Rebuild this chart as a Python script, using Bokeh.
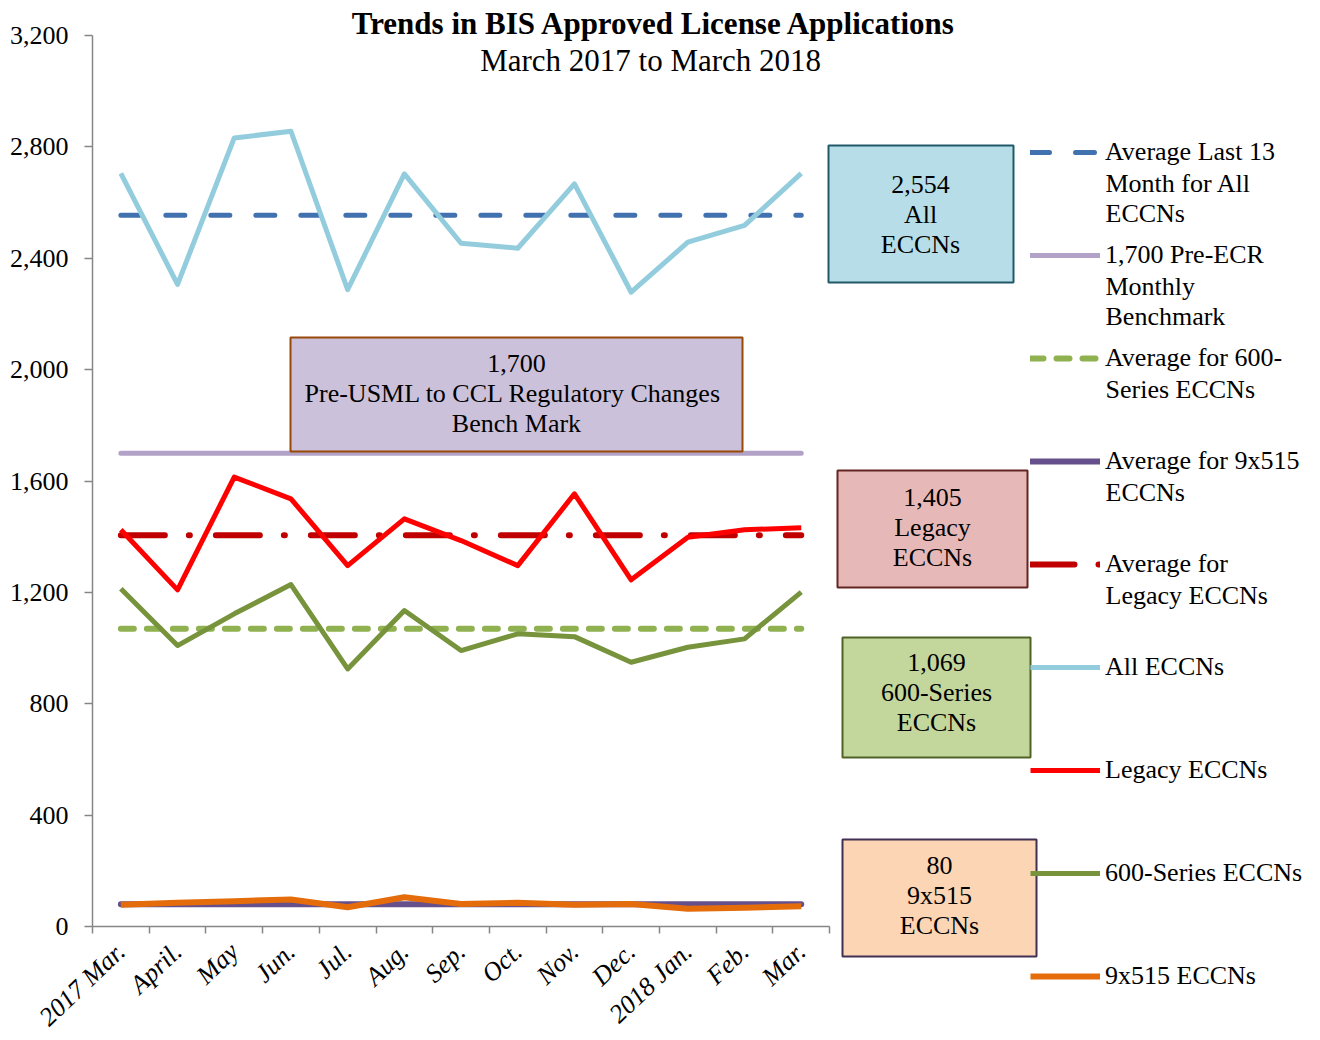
from bokeh.plotting import figure
from bokeh.models import (Range1d, FixedTicker, NumeralTickFormatter, BoxAnnotation,
                          Label, Legend, LegendItem)
from bokeh.embed import file_html
from bokeh.resources import INLINE

# ---------------- data ----------------
months = ["2017 Mar.", "April.", "May", "Jun.", "Jul.", "Aug.", "Sep.", "Oct.",
          "Nov.", "Dec.", "2018 Jan.", "Feb.", "Mar."]
all_eccns = [2705, 2306, 2832, 2856, 2287, 2703, 2454, 2436, 2667, 2278, 2458, 2518, 2705]
legacy_eccns = [1425, 1209, 1614, 1536, 1296, 1464, 1386, 1296, 1554, 1245, 1398, 1425, 1432]
series600_eccns = [1213, 1009, 1123, 1228, 925, 1135, 991, 1051, 1041, 949, 1003, 1033, 1201]
eccn9x515 = [78, 85, 91, 97, 69, 105, 81, 85, 78, 81, 64, 67, 73]
avg_all = 2554
benchmark = 1700
avg_600 = 1069
avg_9x515 = 80
avg_legacy = 1405
y_ticks = [0, 400, 800, 1200, 1600, 2000, 2400, 2800, 3200]

# ---------------- geometry (canvas pixels) ----------------
W, H = 1312, 1036
AX_L = 92          # canvas x of the value axis
AX_B = 926         # canvas y of the category axis
CAT_PX = 56.7      # pixels per category
Y_PX = 891 / 3200  # pixels per unit


def X(px):
    return -0.5 + (px - AX_L) / CAT_PX


def Y(py):
    return (AX_B - py) / Y_PX


FONT = "Liberation Serif"
AXIS = "#868686"

p = figure(width=W, height=H, x_range=Range1d(X(0), X(W)), y_range=Range1d(Y(H), Y(0)),
           output_backend="svg", toolbar_location=None, min_border=0,
           min_border_left=0, min_border_right=0, min_border_top=0, min_border_bottom=0)
p.outline_line_color = None
p.xgrid.visible = False
p.ygrid.visible = False
p.background_fill_color = "white"
p.border_fill_color = "white"

n = len(months)
xs = list(range(n))

# axis lines
p.segment(x0=[-0.5, -0.5], y0=[0, 0], x1=[-0.5, n - 0.5], y1=[y_ticks[-1], 0],
          line_color=AXIS, line_width=1.5)

# y axis
yax = p.yaxis[0]
yax.fixed_location = -0.5
yax.ticker = FixedTicker(ticks=y_ticks)
yax.formatter = NumeralTickFormatter(format="0,0")
yax.axis_line_color = None
yax.major_tick_out = 8
yax.major_tick_in = 0
yax.major_tick_line_color = AXIS
yax.major_tick_line_width = 1.5
yax.minor_tick_line_color = None
yax.major_label_standoff = 16
yax.major_label_text_font = FONT
yax.major_label_text_font_size = "26px"
yax.major_label_text_color = "black"

# x axis
xax = p.xaxis[0]
xax.fixed_location = 0
xax.ticker = FixedTicker(ticks=xs, minor_ticks=[i - 0.5 for i in range(n + 1)])
xax.major_label_overrides = {i: m for i, m in enumerate(months)}
xax.axis_line_color = None
xax.major_tick_out = 0
xax.major_tick_in = 0
xax.minor_tick_out = 7
xax.minor_tick_in = 0
xax.minor_tick_line_color = AXIS
xax.minor_tick_line_width = 1.5
xax.major_label_orientation = 0.76
xax.major_label_standoff = 14
xax.major_label_text_font = FONT
xax.major_label_text_font_size = "26px"
xax.major_label_text_font_style = "italic"
xax.major_label_text_color = "black"

# average / benchmark lines
r_avg_all = p.line(xs, [avg_all] * n, line_color="#4171ae", line_width=5,
                   line_dash="19 26", line_cap="round")
r_bench = p.line(xs, [benchmark] * n, line_color="#b3a2c7", line_width=5, line_cap="round")
r_avg_600 = p.line(xs, [avg_600] * n, line_color="#8fb150", line_width=6,
                   line_dash="13 13", line_cap="round")
r_avg_9x = p.line(xs, [avg_9x515] * n, line_color="#65508c", line_width=6, line_cap="round")
r_avg_leg = p.line(xs, [avg_legacy] * n, line_color="#c00000", line_width=6,
                   line_dash="44 24 1 26", line_cap="round")

# data lines
r_all = p.line(xs, all_eccns, line_color="#93cddd", line_width=5, line_join="round")
r_leg = p.line(xs, legacy_eccns, line_color="#ff0000", line_width=5, line_join="round")
r_600 = p.line(xs, series600_eccns, line_color="#77933c", line_width=5, line_join="round")
r_9x = p.line(xs, eccn9x515, line_color="#e46c0a", line_width=6, line_join="round")

# title
p.add_layout(Label(x=X(654), y=Y(23), text="Trends in BIS Approved License Applications",
                   text_align="center", text_baseline="middle", text_font=FONT,
                   text_font_size="31px", text_font_style="bold", text_color="black"))
p.add_layout(Label(x=X(654), y=Y(60), text="March 2017  to March 2018",
                   text_align="center", text_baseline="middle", text_font=FONT,
                   text_font_size="31px", text_color="black"))

# callout boxes
boxes = [
    # left, right, top, bottom (canvas px), fill, line, text, text centre x, centre y
    (828, 1013, 145, 282, "#b7dee8", "#215968", f"{avg_all:,}\nAll\nECCNs", 920, 214),
    (290, 742, 337, 451, "#ccc1da", "#984807",
     f"{benchmark:,}\nPre-USML  to CCL Regulatory Changes\nBench Mark", 516, 393),
    (837, 1027, 470, 587, "#e6b9b8", "#632523", f"{avg_legacy:,}\nLegacy\nECCNs", 932, 527),
    (842, 1030, 637, 757, "#c3d69b", "#4f6228", f"{avg_600:,}\n600-Series\nECCNs", 936, 692),
    (842, 1036, 839, 956, "#fcd5b5", "#403152", f"{avg_9x515:,}\n9x515\nECCNs", 939, 895),
]
for l, r, t, b, fc, lc, txt, cx, cy in boxes:
    p.add_layout(BoxAnnotation(left=X(l), right=X(r), top=Y(t), bottom=Y(b),
                               fill_color=fc, fill_alpha=1, line_color=lc, line_width=2,
                               line_alpha=1))
    p.add_layout(Label(x=X(cx), y=Y(cy), text=txt, text_align="center",
                       text_baseline="middle", text_font=FONT, text_font_size="26px",
                       text_color="black", text_line_height=1.04))

# legend: first line of each entry in a Legend, continuation lines as labels
entries = [
    (r_avg_all, ["Average Last 13", "Month for All", "ECCNs"]),
    (r_bench, ["1,700 Pre-ECR", "Monthly", "Benchmark"]),
    (r_avg_600, ["Average for 600-", "Series ECCNs"]),
    (r_avg_9x, ["Average for 9x515", "ECCNs"]),
    (r_avg_leg, ["Average for", "Legacy ECCNs"]),
    (r_all, ["All ECCNs"]),
    (r_leg, ["Legacy ECCNs"]),
    (r_600, ["600-Series ECCNs"]),
    (r_9x, ["9x515 ECCNs"]),
]
FIRST = 152      # centre of first entry
STEP = 103       # entry pitch
ITEM_H = 32
LINE_STEP = 30.5
n_items = len(entries)
leg_h = n_items * ITEM_H + (n_items - 1) * (STEP - ITEM_H)
leg_top = FIRST - ITEM_H / 2
legend = Legend(items=[LegendItem(label=lines[0], renderers=[rend]) for rend, lines in entries],
                location=(1030, H - (leg_top + leg_h)),
                glyph_width=70, glyph_height=ITEM_H, label_height=ITEM_H,
                label_standoff=5, padding=0, margin=0, spacing=STEP - ITEM_H,
                border_line_alpha=0, background_fill_alpha=0,
                label_text_font=FONT, label_text_font_size="26px",
                label_text_color="black")
p.add_layout(legend)
for k, (rend, lines) in enumerate(entries):
    cy = FIRST + k * STEP
    for j, line in enumerate(lines[1:], start=1):
        p.add_layout(Label(x=X(1105), y=Y(cy + j * LINE_STEP), text=line,
                           text_align="left", text_baseline="middle", text_font=FONT,
                           text_font_size="26px", text_color="black"))

open("out.html", "w").write(file_html(p, INLINE))
